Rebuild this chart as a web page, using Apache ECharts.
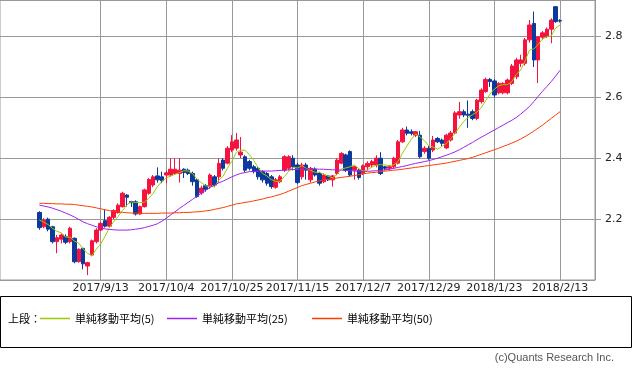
<!DOCTYPE html>
<html><head><meta charset="utf-8">
<script src="https://cdn.jsdelivr.net/npm/echarts@6/dist/echarts.min.js"></script>
<style>html,body{margin:0;padding:0;background:#fff}#c{width:633px;height:370px}</style>
</head><body><div id="c"></div>
<script>
const padBefore = ['2017/8/10','2017/8/11','2017/8/14','2017/8/15','2017/8/16','2017/8/17','2017/8/18','2017/8/21','2017/8/22'];
const dates = ['2017/8/23','2017/8/24','2017/8/25','2017/8/28','2017/8/29','2017/8/30','2017/8/31',
'2017/9/1','2017/9/5','2017/9/6','2017/9/7','2017/9/8','2017/9/11','2017/9/12','2017/9/13','2017/9/14','2017/9/15','2017/9/18','2017/9/19','2017/9/20','2017/9/21','2017/9/22','2017/9/25','2017/9/26','2017/9/27','2017/9/28','2017/9/29',
'2017/10/2','2017/10/3','2017/10/4','2017/10/5','2017/10/6','2017/10/9','2017/10/10','2017/10/11','2017/10/12','2017/10/13','2017/10/16','2017/10/17','2017/10/18','2017/10/19','2017/10/20','2017/10/23','2017/10/24','2017/10/25','2017/10/26','2017/10/27','2017/10/30','2017/10/31',
'2017/11/1','2017/11/2','2017/11/3','2017/11/6','2017/11/7','2017/11/8','2017/11/9','2017/11/10','2017/11/13','2017/11/14','2017/11/15','2017/11/16','2017/11/17','2017/11/20','2017/11/21','2017/11/22','2017/11/24','2017/11/27','2017/11/28','2017/11/29','2017/11/30',
'2017/12/1','2017/12/4','2017/12/5','2017/12/6','2017/12/7','2017/12/8','2017/12/11','2017/12/12','2017/12/13','2017/12/14','2017/12/15','2017/12/18','2017/12/19','2017/12/20','2017/12/21','2017/12/22','2017/12/26','2017/12/27','2017/12/28','2017/12/29',
'2018/1/2','2018/1/3','2018/1/4','2018/1/5','2018/1/8','2018/1/9','2018/1/10','2018/1/11','2018/1/12','2018/1/16','2018/1/17','2018/1/18','2018/1/19','2018/1/22','2018/1/23','2018/1/24','2018/1/25','2018/1/26','2018/1/29','2018/1/30','2018/1/31',
'2018/2/1','2018/2/2','2018/2/5','2018/2/6','2018/2/7','2018/2/8','2018/2/9','2018/2/12','2018/2/13'];
const padAfter = ['2018/2/14','2018/2/15','2018/2/16','2018/2/20','2018/2/21','2018/2/22','2018/2/23','2018/2/26'];
const labelDates = ['2017/9/13','2017/10/4','2017/10/25','2017/11/15','2017/12/7','2017/12/29','2018/1/23','2018/2/13'];

const opens = [2.222,2.175,2.200,2.175,2.126,2.134,2.142,2.126,2.137,2.060,2.104,2.046,2.082,2.126,2.164,2.195,2.177,2.206,2.221,2.241,
2.279,2.258,2.257,2.217,2.241,2.285,2.312,2.342,2.339,2.345,2.345,2.350,2.350,2.364,2.361,2.350,2.329,2.286,2.310,2.307,
2.339,2.339,2.394,2.384,2.427,2.433,2.411,2.405,2.389,2.372,2.367,2.356,2.350,2.339,2.305,2.323,2.361,2.367,2.400,2.378,
2.339,2.378,2.329,2.364,2.350,2.323,2.342,2.329,2.350,2.384,2.411,2.422,2.361,2.361,2.350,2.372,2.378,2.378,2.400,2.372,
2.367,2.372,2.384,2.454,2.493,2.487,2.476,2.476,2.422,2.433,2.427,2.465,2.460,2.434,2.460,2.483,2.542,2.553,2.545,2.553,
2.531,2.586,2.619,2.659,2.654,2.615,2.615,2.615,2.646,2.668,2.712,2.712,2.789,2.843,2.723,2.798,2.800,2.824,2.898,2.852];
const closes = [2.172,2.197,2.167,2.126,2.139,2.148,2.124,2.170,2.060,2.101,2.053,2.057,2.129,2.164,2.186,2.177,2.206,2.228,2.246,2.285,
2.272,2.254,2.217,2.241,2.296,2.330,2.339,2.329,2.326,2.352,2.364,2.364,2.361,2.353,2.350,2.323,2.274,2.302,2.298,2.345,
2.312,2.383,2.367,2.433,2.454,2.460,2.420,2.361,2.367,2.356,2.339,2.329,2.318,2.307,2.329,2.339,2.405,2.405,2.372,2.320,
2.378,2.361,2.367,2.345,2.318,2.345,2.329,2.342,2.394,2.416,2.361,2.345,2.372,2.337,2.375,2.383,2.389,2.400,2.350,2.367,
2.372,2.400,2.454,2.493,2.482,2.482,2.487,2.405,2.433,2.400,2.460,2.454,2.449,2.476,2.483,2.549,2.553,2.542,2.541,2.531,
2.591,2.624,2.659,2.652,2.608,2.646,2.646,2.657,2.703,2.723,2.723,2.789,2.838,2.723,2.799,2.812,2.824,2.854,2.849,2.851];
const lows = [2.165,2.170,2.160,2.120,2.088,2.120,2.118,2.120,2.055,2.057,2.035,2.016,2.078,2.120,2.160,2.172,2.172,2.200,2.218,2.238,
2.241,2.240,2.212,2.214,2.238,2.280,2.305,2.320,2.318,2.318,2.340,2.345,2.320,2.335,2.345,2.310,2.270,2.280,2.290,2.300,
2.305,2.320,2.360,2.380,2.420,2.425,2.400,2.355,2.360,2.350,2.330,2.320,2.310,2.300,2.300,2.318,2.355,2.360,2.360,2.315,
2.330,2.330,2.320,2.340,2.310,2.318,2.325,2.307,2.345,2.380,2.355,2.340,2.330,2.330,2.345,2.360,2.370,2.370,2.345,2.360,
2.360,2.365,2.380,2.450,2.475,2.475,2.470,2.400,2.415,2.395,2.420,2.450,2.440,2.430,2.455,2.480,2.530,2.535,2.500,2.525,
2.525,2.580,2.615,2.634,2.600,2.610,2.610,2.610,2.640,2.660,2.700,2.705,2.780,2.700,2.647,2.790,2.795,2.778,2.845,2.846];
const highs = [2.226,2.203,2.205,2.178,2.148,2.153,2.150,2.175,2.140,2.104,2.106,2.060,2.133,2.170,2.192,2.230,2.210,2.232,2.252,2.290,
2.282,2.260,2.262,2.245,2.300,2.335,2.345,2.370,2.356,2.360,2.400,2.400,2.400,2.367,2.366,2.356,2.335,2.310,2.315,2.350,
2.345,2.400,2.400,2.440,2.476,2.483,2.470,2.410,2.395,2.378,2.372,2.360,2.355,2.345,2.335,2.345,2.410,2.410,2.410,2.385,
2.385,2.385,2.372,2.370,2.355,2.350,2.345,2.345,2.400,2.420,2.415,2.426,2.375,2.365,2.380,2.390,2.395,2.410,2.420,2.375,
2.378,2.405,2.460,2.500,2.504,2.495,2.490,2.490,2.440,2.440,2.473,2.470,2.465,2.480,2.490,2.555,2.585,2.560,2.590,2.560,
2.595,2.630,2.665,2.664,2.660,2.650,2.650,2.662,2.710,2.730,2.740,2.795,2.854,2.882,2.800,2.818,2.830,2.860,2.900,2.857];

const ma5 = [2.197,2.190,2.182,2.170,2.160,2.155,2.141,2.141,2.128,2.121,2.102,2.088,2.080,2.101,2.118,2.143,2.172,2.192,2.209,2.228,
2.247,2.257,2.255,2.254,2.256,2.268,2.285,2.307,2.324,2.335,2.342,2.347,2.353,2.359,2.358,2.350,2.332,2.320,2.309,2.308,
2.306,2.328,2.341,2.368,2.390,2.419,2.427,2.426,2.412,2.393,2.369,2.350,2.342,2.330,2.324,2.324,2.340,2.357,2.370,2.368,
2.376,2.367,2.360,2.354,2.354,2.347,2.341,2.336,2.346,2.365,2.368,2.372,2.378,2.366,2.358,2.362,2.371,2.377,2.379,2.378,
2.376,2.378,2.389,2.417,2.440,2.462,2.480,2.470,2.458,2.441,2.437,2.430,2.439,2.448,2.464,2.482,2.502,2.521,2.534,2.543,
2.552,2.566,2.589,2.611,2.627,2.638,2.642,2.642,2.652,2.675,2.690,2.719,2.755,2.759,2.774,2.792,2.799,2.802,2.828,2.838];
const ma25 = [2.246,2.243,2.240,2.236,2.231,2.226,2.220,2.214,2.207,2.199,2.191,2.185,2.180,2.175,2.171,2.168,2.166,2.165,2.164,2.164,
2.164,2.165,2.167,2.169,2.172,2.176,2.180,2.185,2.193,2.203,2.214,2.224,2.235,2.245,2.255,2.265,2.275,2.285,2.295,2.304,
2.312,2.319,2.325,2.332,2.339,2.345,2.350,2.353,2.356,2.357,2.358,2.358,2.358,2.358,2.359,2.360,2.361,2.362,2.363,2.363,
2.364,2.364,2.365,2.365,2.364,2.364,2.363,2.362,2.362,2.361,2.360,2.359,2.358,2.357,2.357,2.357,2.358,2.359,2.360,2.362,
2.364,2.367,2.370,2.373,2.376,2.380,2.383,2.386,2.389,2.392,2.396,2.400,2.405,2.410,2.415,2.421,2.428,2.436,2.444,2.452,
2.461,2.469,2.477,2.485,2.493,2.501,2.509,2.517,2.525,2.534,2.545,2.557,2.570,2.586,2.603,2.620,2.636,2.652,2.670,2.689];
const ma50 = [2.252,2.252,2.251,2.251,2.250,2.250,2.249,2.249,2.248,2.246,2.244,2.242,2.240,2.237,2.234,2.231,2.228,2.226,2.224,2.222,
2.221,2.220,2.220,2.219,2.219,2.219,2.219,2.219,2.220,2.220,2.220,2.221,2.221,2.222,2.222,2.223,2.224,2.225,2.227,2.229,
2.232,2.235,2.238,2.242,2.246,2.250,2.252,2.255,2.257,2.260,2.263,2.266,2.270,2.273,2.277,2.281,2.286,2.292,2.298,2.304,
2.310,2.314,2.318,2.322,2.326,2.329,2.331,2.333,2.335,2.337,2.339,2.341,2.343,2.346,2.349,2.351,2.353,2.354,2.356,2.358,
2.359,2.361,2.362,2.364,2.366,2.368,2.370,2.372,2.374,2.376,2.378,2.380,2.382,2.384,2.387,2.390,2.393,2.396,2.399,2.403,
2.408,2.413,2.418,2.423,2.428,2.433,2.439,2.444,2.450,2.456,2.463,2.471,2.480,2.489,2.499,2.509,2.520,2.531,2.542,2.553];

const seriesNames = ['単純移動平均(5)','単純移動平均(25)','単純移動平均(50)'];
const maColors = ['#99cc00','#a020f0','#ff3c00'];
const upColor = '#f5123f', downColor = '#0b3a9c';

const categories = padBefore.concat(dates, padAfter);
const blankB = padBefore.map(() => '-'), blankA = padAfter.map(() => '-');
const candleData = blankB.concat(dates.map((d, i) => [opens[i], closes[i], lows[i], highs[i]]), blankA);
const maData = [ma5, ma25, ma50].map(a => blankB.concat(a, blankA));
const isLabel = (idx, val) => labelDates.indexOf(val) >= 0;

const chart = echarts.init(document.getElementById('c'), null, {renderer: 'canvas'});
const legendLefts = [40, 167, 312];
chart.setOption({
  animation: false,
  grid: {left: 0, top: 0, right: 38, bottom: 90, show: true, borderColor: '#999', borderWidth: 1, backgroundColor: 'transparent'},
  xAxis: {
    type: 'category', data: categories, boundaryGap: false,
    axisLine: {show: false}, axisTick: {show: false},
    axisLabel: {interval: isLabel, fontSize: 11, fontFamily: 'DejaVu Sans', color: '#222', margin: 3},
    splitLine: {show: true, interval: isLabel, lineStyle: {color: '#999', width: 1}}
  },
  yAxis: {
    type: 'value', position: 'right', min: 2.0, max: 2.92, interval: 0.2, scale: true,
    axisLine: {show: true, lineStyle: {color: '#999'}},
    axisTick: {show: true, length: 6, lineStyle: {color: '#999'}},
    axisLabel: {showMinLabel: false, showMaxLabel: false, fontSize: 11, fontFamily: 'DejaVu Sans', color: '#222', margin: 10,
      formatter: v => v.toFixed(1)},
    splitLine: {show: true, lineStyle: {color: '#999', width: 1}}
  },
  legend: seriesNames.map((n, k) => ({
    data: [n], left: legendLefts[k], top: 313, icon: 'rect', itemWidth: 30, itemHeight: 1.5, padding: 0,
    textStyle: {fontSize: 11, fontFamily: 'Noto Sans CJK JP', color: '#000'}
  })),
  graphic: [
    {type: 'rect', shape: {x: 0.5, y: 296.5, width: 631, height: 51}, style: {fill: 'none', stroke: '#000', lineWidth: 1}},
    {type: 'text', left: 8, top: 313, style: {text: '上段：', fontSize: 11, fontFamily: 'Noto Sans CJK JP', fill: '#000'}},
    {type: 'text', right: 19, top: 352, style: {text: '(c)Quants Research Inc.', fontSize: 11, fontFamily: 'Liberation Sans', fill: '#555'}}
  ],
  series: [
    {type: 'candlestick', data: candleData, barWidth: 4,
      itemStyle: {color: upColor, color0: downColor, borderColor: upColor, borderColor0: downColor, borderWidth: 1}},
  ].concat(seriesNames.map((n, k) => ({
    name: n, type: 'line', data: maData[k], showSymbol: false, symbol: 'none', smooth: false,
    lineStyle: {color: maColors[k], width: 1}, itemStyle: {color: maColors[k]}, z: 3
  })))
});
</script></body></html>
